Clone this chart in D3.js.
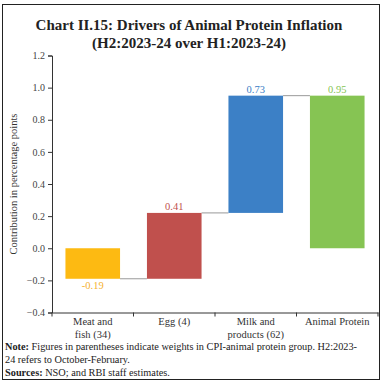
<!DOCTYPE html>
<html><head><meta charset="utf-8">
<script src="https://cdn.jsdelivr.net/npm/d3@7"></script>
<style>body{margin:0;background:#fff}svg{display:block}</style>
</head><body>
<svg id="c" width="381" height="384"></svg>
<script>
const categories = ["Meat and|fish (34)", "Egg (4)", "Milk and|products (62)", "Animal Protein"];
const values = [-0.19, 0.41, 0.73, 0.95];
const isTotal = [false, false, false, true];
const labels = ["-0.19", "0.41", "0.73", "0.95"];
const colors = ["#FDBA12", "#C0504D", "#3C80C6", "#86C453"];
const labelColors = ["#F5B12E", "#C0504D", "#3C80C6", "#86C453"];
const yTicks = [-0.4, -0.2, 0.0, 0.2, 0.4, 0.6, 0.8, 1.0, 1.2];

const svg = d3.select("#c");
const serif = "'Liberation Serif','DejaVu Serif',serif";
svg.append("rect").attr("x",2.5).attr("y",4.5).attr("width",377).attr("height",375)
  .attr("fill","none").attr("stroke","#222").attr("stroke-width",1);

svg.append("text").attr("x",189).attr("y",30).attr("text-anchor","middle")
  .attr("font-family",serif).attr("font-weight","bold").attr("font-size",15).attr("fill","#222")
  .text("Chart II.15: Drivers of Animal Protein Inflation");
svg.append("text").attr("x",189).attr("y",48).attr("text-anchor","middle")
  .attr("font-family",serif).attr("font-weight","bold").attr("font-size",15).attr("fill","#222")
  .text("(H2:2023-24 over H1:2023-24)");

const x = d3.scaleBand().domain(categories).range([52, 378]).paddingInner(0.33).paddingOuter(0.165);
const y = d3.scaleLinear().domain([-0.4, 1.2]).range([312.5, 55.5]);

// compute waterfall segments
let run = 0;
const segs = values.map((v,i) => {
  let s, e;
  if (isTotal[i]) { s = 0; e = v; run = v; }
  else { s = run; e = run + v; run = e; }
  return {i, s, e, v};
});

const yAxis = d3.axisLeft(y).tickValues(yTicks).tickFormat(d3.format(".1f")).tickSize(4);
const gy = svg.append("g").attr("transform","translate(52,0)").call(yAxis);
gy.selectAll("path,line").attr("stroke","#333");
gy.selectAll("text").attr("font-family",serif).attr("font-size",10).attr("fill","#444");

const xAxis = d3.axisBottom(x).tickSize(0).tickFormat("");
const gx = svg.append("g").attr("transform",`translate(0,${y(-0.4)})`).call(xAxis);
gx.select("path").attr("stroke","#333");
// boundary ticks
const bounds = categories.map(c => x(c) - x.step()*x.paddingInner()/2).concat([378]);
gx.selectAll("line.b").data(bounds).enter().append("line").attr("class","b")
  .attr("x1",d=>d).attr("x2",d=>d).attr("y1",0).attr("y2",4).attr("stroke","#333");
categories.forEach(c => {
  const parts = c.split("|");
  const t = svg.append("text").attr("x", x(c)+x.bandwidth()/2).attr("y", 324.5)
    .attr("text-anchor","middle").attr("font-family",serif).attr("font-size",10.5).attr("fill","#333");
  parts.forEach((p,k)=> t.append("tspan").attr("x", x(c)+x.bandwidth()/2).attr("dy", k?13:0).text(p));
});

svg.append("text").attr("transform","translate(17,184) rotate(-90)").attr("text-anchor","middle")
  .attr("font-family",serif).attr("font-size",10.5).attr("fill","#333")
  .text("Contribution in percentage points");

// connectors
segs.slice(0,-1).forEach((d,k) => {
  const c0 = categories[d.i], c1 = categories[d.i+1];
  svg.append("line").attr("x1", x(c0)+x.bandwidth()).attr("x2", x(c1))
    .attr("y1", y(d.e)).attr("y2", y(d.e)).attr("stroke","#999").attr("stroke-width",1);
});

svg.selectAll("rect.bar").data(segs).enter().append("rect").attr("class","bar")
  .attr("x", d=>x(categories[d.i])).attr("width", x.bandwidth())
  .attr("y", d=>y(Math.max(d.s,d.e))).attr("height", d=>Math.abs(y(d.s)-y(d.e)))
  .attr("fill", d=>colors[d.i]);

svg.selectAll("text.lab").data(segs).enter().append("text").attr("class","lab")
  .attr("x", d=>x(categories[d.i])+x.bandwidth()/2)
  .attr("y", d=> d.v<0 ? y(d.e)+10 : y(d.e)-2.5)
  .attr("text-anchor","middle").attr("font-family",serif).attr("font-size",10.5)
  .attr("fill", d=>labelColors[d.i]).text(d=>labels[d.i]);

// notes
const note = svg.append("text").attr("font-family",serif).attr("font-size",10.3).attr("fill","#222");
note.append("tspan").attr("x",5).attr("y",350).attr("font-weight","bold").text("Note:");
note.append("tspan").text(" Figures in parentheses indicate weights in CPI-animal protein group. H2:2023-");
note.append("tspan").attr("x",5).attr("y",363).text("24 refers to October-February.");
const src = svg.append("text").attr("font-family",serif).attr("font-size",10.3).attr("fill","#222");
src.append("tspan").attr("x",5).attr("y",376).attr("font-weight","bold").text("Sources:");
src.append("tspan").text(" NSO; and RBI staff estimates.");
</script>
</body></html>
